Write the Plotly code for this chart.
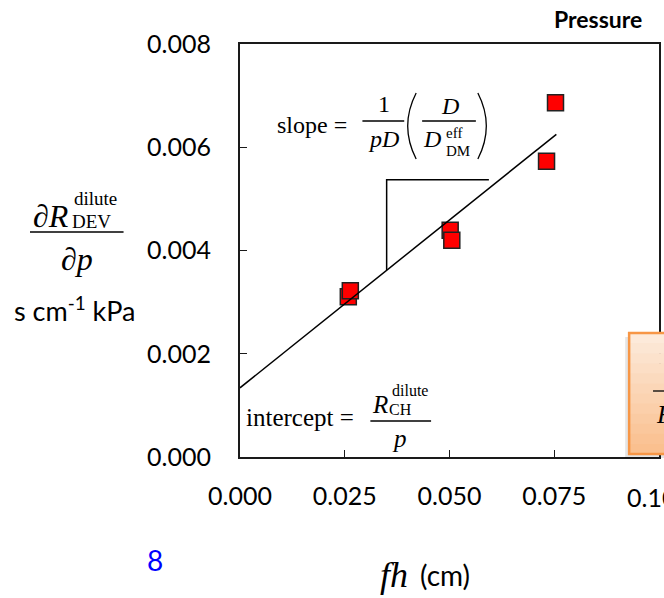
import plotly.graph_objects as go

# ---- data ----
fh_cm = [0.02585, 0.02633, 0.05016, 0.05055, 0.07316, 0.07530]
dR_dp = [0.003105, 0.003219, 0.004391, 0.004197, 0.005728, 0.006863]
fit_x = [0.0, 0.0755]
fit_y = [0.00134, 0.00625]
tri_x = [0.035, 0.035, 0.0594]
tri_y = [0.00362, 0.00537, 0.00537]
x_ticks = [0.0, 0.025, 0.05, 0.075, 0.1]
x_tick_text = ["0.000", "0.025", "0.050", "0.075", "0.100"]
y_ticks = [0.0, 0.002, 0.004, 0.006, 0.008]
y_tick_text = ["0.000", "0.002", "0.004", "0.006", "0.008"]

W, H = 664, 598
L, R, T, B = 240, 661, 44, 457

def P(px, py):
    return (px - L) / (R - L), (B - py) / (B - T)

SERIF = "Liberation Serif, Times New Roman, serif"
SANS = "Lato, Open Sans, sans-serif"

fig = go.Figure()
fig.add_trace(go.Scatter(x=fh_cm, y=dR_dp, mode="markers",
                         marker=dict(symbol="square", size=16, color="#FF0000",
                                     line=dict(color="#222222", width=1.5)),
                         showlegend=False, hoverinfo="skip"))
fig.add_trace(go.Scatter(x=fit_x, y=fit_y, mode="lines",
                         line=dict(color="black", width=1.5),
                         showlegend=False, hoverinfo="skip"))
fig.add_trace(go.Scatter(x=tri_x, y=tri_y, mode="lines",
                         line=dict(color="black", width=1.5),
                         showlegend=False, hoverinfo="skip"))

ann = []
shapes = []

def text(px, py, s, size, family=SERIF, color="black", xanchor="center"):
    x, y = P(px, py)
    ann.append(dict(x=x, y=y, xref="paper", yref="paper", text=s, showarrow=False,
                    xanchor=xanchor, yanchor="middle",
                    font=dict(family=family, size=size, color=color)))

def hline(x0, x1, y, w=1.3, color="black"):
    a = P(x0, y); b = P(x1, y)
    shapes.append(dict(type="line", xref="paper", yref="paper", x0=a[0], y0=a[1],
                       x1=b[0], y1=b[1], line=dict(color=color, width=w)))

def paren(x_end, x_ctrl, y0, y1):
    a = P(x_end, y0); c = P(x_ctrl, (y0 + y1) / 2); b = P(x_end, y1)
    shapes.append(dict(type="path", xref="paper", yref="paper",
                       path=f"M {a[0]},{a[1]} Q {c[0]},{c[1]} {b[0]},{b[1]}",
                       line=dict(color="black", width=1.3)))

def rect(x0, y0, x1, y1, fill, lw=0, lc="rgba(0,0,0,0)"):
    a = P(x0, y0); b = P(x1, y1)
    shapes.append(dict(type="rect", xref="paper", yref="paper", x0=a[0], y0=a[1],
                       x1=b[0], y1=b[1], fillcolor=fill, line=dict(color=lc, width=lw),
                       layer="above"))

# y-axis title (fraction)
text(50, 216, "∂<i>R</i>", 32)
text(95, 198, "dilute", 19)
text(91, 222, "DEV", 19)
hline(29, 123, 232, 1.5)
text(76, 259, "∂<i>p</i>", 32)
text(74, 309, "s cm<sup>-1</sup> kPa", 27, SANS)

# slope equation
text(312, 125, "slope =", 24)
text(385, 104, "1", 24)
hline(363, 405, 121)
text(384, 139, "<i>pD</i>", 24)
paren(417, 400, 93, 159)
text(451, 106, "<i>D</i>", 24)
hline(423, 477, 121)
text(433, 139, "<i>D</i>", 24)
text(455, 133, "eff", 15)
text(459, 151, "DM", 15)
paren(479, 496, 93, 159)

# intercept equation
text(300, 417, "intercept =", 25)
text(381, 404, "<i>R</i>", 25)
text(411, 390, "dilute", 16)
text(401, 409, "CH", 16)
hline(371, 432, 421)
text(400, 438, "<i>p</i>", 25)

# other texts
text(600, 19, "<b>Pressure</b>", 23, SANS)
text(155, 560, "8", 28, SANS, color="#0000FF")
text(395, 575, "<i>fh</i>", 36)
text(446, 575, "(cm)", 28, SANS)

# last x tick label (cut by the page edge in the reference)
ann.append(dict(x=x_ticks[-1], y=P(0, 497)[1], xref="x", yref="paper",
                text=x_tick_text[-1], showarrow=False, xanchor="center",
                yanchor="middle", font=dict(family=SANS, size=25, color="black")))

# orange box (gradient simulated by bands), with soft shadow
rect(627, 337, 670, 458, "rgba(0,0,0,0.10)")
n = 12
top, bot = 333, 454
c0 = (253, 234, 218); c1 = (250, 192, 143)
for i in range(n):
    t = i / (n - 1)
    col = tuple(int(c0[k] + (c1[k] - c0[k]) * t) for k in range(3))
    y0 = top + (bot - top) * i / n
    y1 = top + (bot - top) * (i + 1) / n + 0.6
    rect(631, y0, 670, y1, f"rgb{col}")
rect(631, 333, 670, 454, "rgba(0,0,0,0)", 2.5, "#F79646")
hline(655, 670, 391, 1.3)
text(656, 414, "<i>F</i>", 26, xanchor="left")

fig.update_layout(
    width=W, height=H, autosize=False,
    margin=dict(l=L, r=W - R, t=T, b=H - B, pad=0),
    paper_bgcolor="white", plot_bgcolor="white",
    annotations=ann, shapes=shapes,
    xaxis=dict(range=[0, 0.1], tickvals=x_ticks, ticktext=x_tick_text,
               showgrid=False, zeroline=False, showline=True, mirror=True,
               linecolor="#1a1a1a", linewidth=2, ticks="inside", ticklen=7,
               tickwidth=1.3, tickcolor="#1a1a1a", ticklabelstandoff=16,
               tickfont=dict(family=SANS, size=25, color="black")),
    yaxis=dict(range=[0, 0.008], tickvals=y_ticks, ticktext=y_tick_text,
               showgrid=False, zeroline=False, showline=True, mirror=True,
               linecolor="#1a1a1a", linewidth=2, ticks="inside", ticklen=7,
               tickwidth=1.3, tickcolor="#1a1a1a", ticklabelstandoff=22,
               tickfont=dict(family=SANS, size=25, color="black")),
)

fig.write_html("out.html")
